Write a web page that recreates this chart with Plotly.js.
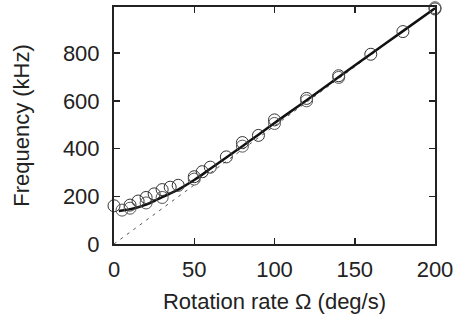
<!DOCTYPE html>
<html>
<head>
<meta charset="utf-8">
<script src="https://cdn.plot.ly/plotly-3.0.1.min.js"></script>
<style>html,body{margin:0;padding:0;background:#fff;}#chart{width:456px;height:321px;}</style>
</head>
<body>
<div id="chart"></div>
<script>
// Measured frequencies, upper sweep (open circles)
const omegaA = [0, 10, 15, 20, 25, 30, 35, 40, 50, 55, 60, 70, 80, 90, 100, 120, 140, 160, 180, 200];
const freqA  = [160, 163, 180, 195, 210, 228, 238, 246, 282, 303, 322, 365, 425, 455, 520, 610, 705, 795, 890, 985];
// Measured frequencies, second set (open circles)
const omegaB = [5, 10, 20, 30, 50, 80, 100, 120, 140, 200];
const freqB  = [142, 150, 172, 195, 272, 410, 505, 600, 698, 990];
// Model curve (solid)
const omegaFit = [3, 5, 10, 15, 20, 25, 30, 40, 50, 60, 70, 80, 90, 100, 120, 140, 160, 180, 200];
const freqFit  = [138, 140, 146, 154, 165, 180, 196, 228, 268, 315, 362, 410, 458, 507, 602, 700, 796, 892, 988];
// Linear asymptote (dashed)
const omegaLin = [0, 200];
const freqLin  = [0, 990];

const xTicks = [0, 50, 100, 150, 200];
const yTicks = [0, 200, 400, 600, 800];

const font = {family: 'Liberation Sans, Arial, sans-serif', size: 22, color: '#222'};

const traces = [
  {x: omegaLin, y: freqLin, mode: 'lines', line: {color: '#555', width: 1, dash: '3px,5px'}, hoverinfo: 'skip'},
  {x: omegaFit, y: freqFit, mode: 'lines', line: {color: '#111', width: 2.5, shape: 'spline'}},
  {x: omegaA, y: freqA, mode: 'markers', cliponaxis: false, marker: {symbol: 'circle-open', size: 12, color: '#333', line: {width: 1}}},
  {x: omegaB, y: freqB, mode: 'markers', cliponaxis: false, marker: {symbol: 'circle-open', size: 12, color: '#555', line: {width: 1}}}
];

const axisCommon = {
  showgrid: false, zeroline: false, showline: true, linecolor: '#222', linewidth: 2,
  mirror: 'ticks', ticks: 'inside', ticklen: 6, tickwidth: 1.5, tickcolor: '#222',
  tickfont: font
};

const layout = {
  width: 456, height: 321,
  margin: {l: 114, r: 21, t: 7, b: 77},
  paper_bgcolor: '#fff', plot_bgcolor: '#fff',
  showlegend: false,
  font: font,
  xaxis: Object.assign({}, axisCommon, {
    range: [0, 200], tickvals: xTicks, ticktext: xTicks.map(String),
    ticklabelstandoff: 5,
    title: {text: 'Rotation rate Ω (deg/s)', font: font, standoff: 12}
  }),
  yaxis: Object.assign({}, axisCommon, {
    range: [0, 993], tickvals: yTicks, ticktext: yTicks.map(String),
    ticklabelstandoff: 8,
    title: {text: 'Frequency (kHz)', font: font, standoff: 27}
  })
};

Plotly.newPlot('chart', traces, layout, {staticPlot: true, displayModeBar: false});
</script>
</body>
</html>
